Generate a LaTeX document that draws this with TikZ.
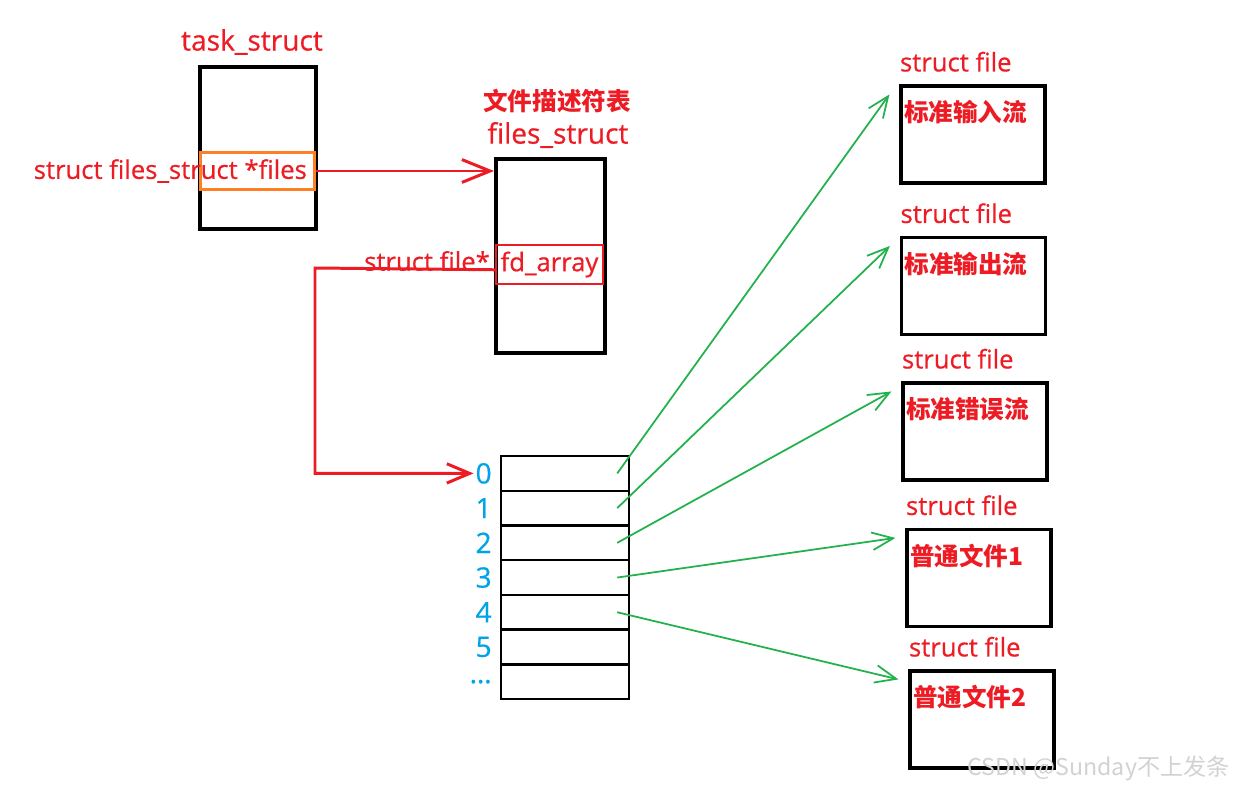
\documentclass[tikz,border=0pt]{standalone}
\usepackage{fontspec}
\setmainfont{Open Sans}[FakeBold=0.6]
\newfontfamily\cjk{Noto Sans CJK SC}
\usetikzlibrary{arrows.meta,positioning}
\definecolor{penred}{HTML}{ED1C24}
\definecolor{penorange}{HTML}{FF7F27}
\definecolor{pengreen}{HTML}{22B14C}
\definecolor{penblue}{HTML}{00A2E8}

\begin{document}
\begin{tikzpicture}[x=0.02cm, y=-0.02cm,
      every node/.style={inner sep=1pt},
      redlabel/.style={text=penred, font=\fontsize{14.6}{16}\selectfont},
      titlelabel/.style={text=penred, font=\fontsize{16}{18}\selectfont},
      cnlabel/.style={text=penred, font=\fontsize{14}{16}\selectfont\cjk\bfseries},
      idxlabel/.style={text=penblue, font=\fontsize{16}{18}\selectfont},
      structbox/.style={rectangle, draw=black, line width=2.3pt},
      cellbox/.style={rectangle, draw=black, line width=1.4pt,
                      minimum width=2.56cm, minimum height=0.694cm},
      filebox/.style={rectangle, draw=black, line width=1.8pt,
                      minimum width=2.88cm, minimum height=1.94cm},
      ptrarrow/.style={-{Straight Barb[length=16pt,width=13pt]},
                       line width=1.7pt, draw=penred},
      filearrow/.style={-{Straight Barb[length=12pt,width=10pt]},
                        line width=1pt, draw=pengreen},
    ]
  \useasboundingbox (0,0) rectangle (1235,788);

  % task_struct
  \node[titlelabel] (tasktitle) at (252,42) {task\_struct};
  \node[structbox, minimum width=2.32cm, minimum height=3.24cm] (task) at (258,148) {};
  \node[draw=penorange, line width=1.7pt, minimum width=2.3cm,
        minimum height=0.74cm] (filesptr) at (257.5,171) {};
  \node[redlabel, anchor=east] (filesdecl) at (309,171) {struct files\_struct *files};

  % files_struct
  \node[cnlabel] (fdtitle) at (557,101) {文件描述符表};
  \node[titlelabel] (filestitle) at (558,135) {files\_struct};
  \node[structbox, minimum width=2.18cm, minimum height=3.88cm] (files) at (550.5,256) {};
  \node[redlabel, draw=penred, line width=1.1pt, minimum width=2.14cm,
        minimum height=0.78cm] (fdarr) at (549.5,264.5) {fd\_array};
  \node[redlabel, anchor=east] (fdtype) at (492,261) {struct file*};

  \draw[ptrarrow] (filesptr.east) -- (filesptr.east -| files.west);

  % fd array
  \foreach \i in {0,...,6}
    \node[cellbox] (cell\i) at (565,{473.4+34.71*\i}) {};
  \foreach \lab [count=\i from 0] in {0,1,2,3,4,5,\dots}
    \node[idxlabel, anchor=east] (idx\i) at ([xshift=-0.12cm]cell\i.west) {\lab};

  \coordinate (bend) at (315,268);
  \draw[ptrarrow, -{Straight Barb[length=13pt,width=11pt]}]
    ([yshift=-3pt]fdarr.west) -- (bend) |- (idx0.west);

  % struct file objects
  \foreach \cx/\cy/\n/\txt in {973/134.5/0/标准输入流, 973.5/286/1/标准输出流,
      975/431.5/2/标准错误流, 979/578/3/普通文件1, 982/719.5/4/普通文件2} {
    \node[filebox] (file\n) at (\cx,\cy) {};
    \node[redlabel, anchor=base west] (ftype\n)
      at ([xshift=-0.03cm, yshift=0.26cm]file\n.north west) {struct file};
    \node[cnlabel, anchor=west] (fname\n)
      at ([xshift=0.05cm, yshift=-0.56cm]file\n.north west) {\txt};
  }

  \foreach \i in {0,...,4}
    \draw[filearrow] ([xshift=-0.26cm]cell\i.east)
      -- ([xshift=-0.2cm, yshift=-0.2cm]file\i.north west);

  \node[text=gray!35, font=\fontsize{13.2}{15}\selectfont\cjk, anchor=east]
    (mark) at (1232,768) {CSDN @Sunday不上发条};

\end{tikzpicture}
\end{document}
